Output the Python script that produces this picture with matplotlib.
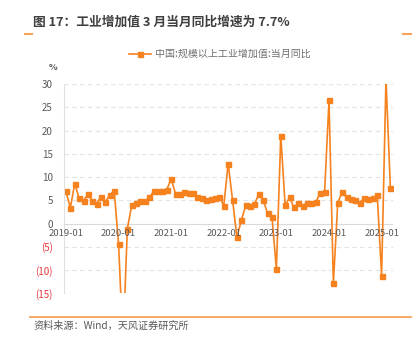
import matplotlib
matplotlib.use("Agg")
import matplotlib.pyplot as plt
import numpy as np

plt.rcParams['font.family'] = ['Noto Sans CJK SC', 'DejaVu Sans']

# monthly yoy, 2019-01 .. 2025-03
v2019 = [6.9, 3.4, 8.6, 5.4, 4.9, 6.3, 4.8, 4.3, 5.8, 4.6, 6.2, 7.0]
v2020 = [-4.4, -25.9, -1.1, 3.9, 4.4, 4.8, 4.8, 5.6, 6.9, 6.9, 7.0, 7.3]
v2021 = [9.6, 6.4, 6.3, 6.8, 6.6, 6.5, 5.6, 5.4, 5.0, 5.2, 5.4, 5.8]
v2022 = [3.8, 12.9, 5.0, -2.9, 0.7, 3.9, 3.8, 4.2, 6.3, 5.0, 2.2, 1.3]
v2023 = [-9.8, 18.9, 3.9, 5.6, 3.5, 4.4, 3.7, 4.5, 4.5, 4.6, 6.6, 6.8]
v2024 = [26.5, -12.8, 4.5, 6.7, 5.6, 5.3, 5.1, 4.5, 5.4, 5.3, 5.4, 6.2]
v2025 = [-11.2, 31.0, 7.7]
values = v2019 + v2020 + v2021 + v2022 + v2023 + v2024 + v2025
xlabels = ["2019-01", "2020-01", "2021-01", "2022-01", "2023-01", "2024-01", "2025-01"]
yticks = [-15, -10, -5, 0, 5, 10, 15, 20, 25, 30]

orange = '#F5821F'
grey = '#595959'

fig = plt.figure(figsize=(4.16, 3.41), dpi=100)
ax = fig.add_axes([64/416, 1-293.3/341, (393-64)/416, (293.3-84)/341])

x = np.arange(len(values))
ax.plot(x, values, color=orange, lw=1.2, marker='s', ms=3.6, mec=orange, mfc=orange,
        label='中国:规模以上工业增加值:当月同比')

ax.set_xlim(-0.45, 74.6)
ax.set_ylim(-15, 30)
for s in ['top', 'right', 'bottom']:
    ax.spines[s].set_visible(False)
ax.spines['left'].set_color('#E0E0E0')
ax.spines['left'].set_linewidth(0.8)

for t in yticks:
    if t == 0:
        ax.axhline(0, color='#DADADA', lw=0.8, zorder=0)
    else:
        ax.axhline(t, color='#E3E3E3', lw=0.8, ls=(0, (4, 3)), zorder=0)

ax.set_yticks(yticks)
ax.set_yticklabels([f"({-t})" if t < 0 else str(t) for t in yticks], fontsize=7)
for lab, t in zip(ax.get_yticklabels(), yticks):
    lab.set_color('#E8383D' if t < 0 else grey)
ax.tick_params(axis='y', length=0, pad=8)
ax.set_xticks([])

for i, lab in enumerate(xlabels):
    ax.annotate(lab, (i * 12, 0), xytext=(0, -4), textcoords='offset points',
                ha='center', va='top', fontsize=6.8, color=grey)

leg = fig.legend(loc='center', bbox_to_anchor=(220/416, 1-54/341), frameon=False,
                 fontsize=7.2, handlelength=2.2, handletextpad=0.4)
for t in leg.get_texts():
    t.set_color('#707070')

fig.text(53/416, 1-67/341, '%', fontsize=6.5, color=grey, ha='center', va='center', fontweight='bold')

fig.text(33/416, 1-22/341, '图 17：工业增加值 3 月当月同比增速为 7.7%', fontsize=9.2,
         color='#3F3F3F', fontweight='bold', ha='left', va='center')
fig.add_artist(plt.Line2D([25/416, 32/416], [1-34/341, 1-34/341], color='#F7A35C', lw=1.5))
fig.add_artist(plt.Line2D([403/416, 411/416], [1-34/341, 1-34/341], color='#F7A35C', lw=1.5))

fig.add_artist(plt.Line2D([30/416, 411/416], [1-316.7/341, 1-316.7/341], color='#F7A35C', lw=1.3))
fig.text(33/416, 1-326/341, '资料来源：Wind，天风证券研究所', fontsize=7.3, color=grey,
         ha='left', va='center')

fig.savefig('out.png', dpi=100, facecolor='white')
